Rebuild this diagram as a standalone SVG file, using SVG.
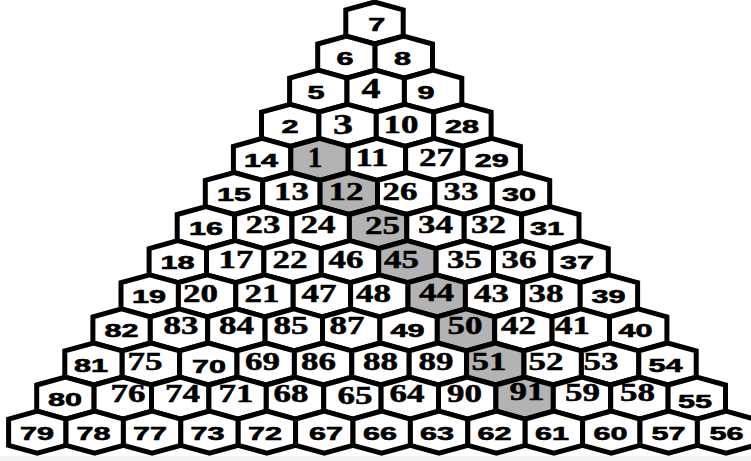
<svg xmlns="http://www.w3.org/2000/svg" xmlns:xlink="http://www.w3.org/1999/xlink" width="751" height="461" viewBox="0 0 751 461">
<defs>
<polygon id="hx" points="0,-21 28.7,-13.1 28.7,13.1 0,21 -28.7,13.1 -28.7,-13.1"/>
</defs>
<style>
.c{fill:#fff;stroke:#000;stroke-width:5;stroke-linejoin:miter}
.g{fill:#b3b3b3;stroke:#000;stroke-width:5;stroke-linejoin:miter}
.s{font-family:"Liberation Sans",Arial,sans-serif;font-weight:bold;font-size:18px;fill:#000;stroke:#000;stroke-width:0.6;text-anchor:middle}
.t{font-family:"Liberation Serif","Times New Roman",serif;font-weight:bold;font-size:26px;fill:#000;stroke:#000;stroke-width:0.5;text-anchor:middle}
.t1{font-family:"Liberation Serif","Times New Roman",serif;font-weight:bold;font-size:29px;fill:#000;stroke:#000;stroke-width:0.5;text-anchor:middle}
</style>
<rect width="751" height="461" fill="#fff"/>
<rect x="0" y="456" width="751" height="5" fill="#f3f3f3"/>
<g id="connectors"/>
<!-- row 0 -->
<g id="n7"><use xlink:href="#hx" x="374.5" y="23" class="c"/><text class="s" x="376.7" y="30.5" textLength="17" lengthAdjust="spacingAndGlyphs">7</text></g>
<!-- row 1 -->
<g id="n6"><use xlink:href="#hx" x="346.4" y="57.1" class="c"/><text class="s" x="345" y="64.6" textLength="17" lengthAdjust="spacingAndGlyphs">6</text></g>
<g id="n8"><use xlink:href="#hx" x="403.8" y="57.1" class="c"/><text class="s" x="402.5" y="64.6" textLength="17" lengthAdjust="spacingAndGlyphs">8</text></g>
<!-- row 2 -->
<g id="n5"><use xlink:href="#hx" x="318.3" y="91.2" class="c"/><text class="s" x="316" y="98.7" textLength="17" lengthAdjust="spacingAndGlyphs">5</text></g>
<g id="n4"><use xlink:href="#hx" x="375.7" y="91.2" class="c"/><text class="t1" x="371" y="97.8" textLength="19" lengthAdjust="spacingAndGlyphs">4</text></g>
<g id="n9"><use xlink:href="#hx" x="433.1" y="91.2" class="c"/><text class="s" x="426" y="98.7" textLength="17" lengthAdjust="spacingAndGlyphs">9</text></g>
<!-- row 3 -->
<g id="n2"><use xlink:href="#hx" x="290.2" y="125.3" class="c"/><text class="s" x="290" y="132.8" textLength="17" lengthAdjust="spacingAndGlyphs">2</text></g>
<g id="n3"><use xlink:href="#hx" x="347.6" y="125.3" class="c"/><text class="t1" x="343" y="133.8" textLength="20" lengthAdjust="spacingAndGlyphs">3</text></g>
<g id="n10"><use xlink:href="#hx" x="405" y="125.3" class="c"/><text class="t" x="401" y="132.8" textLength="35" lengthAdjust="spacingAndGlyphs">10</text></g>
<g id="n28"><use xlink:href="#hx" x="462.4" y="125.3" class="c"/><text class="s" x="462" y="132.8" textLength="34" lengthAdjust="spacingAndGlyphs">28</text></g>
<!-- row 4 -->
<g id="n14"><use xlink:href="#hx" x="262.1" y="159.4" class="c"/><text class="s" x="261" y="166.9" textLength="34" lengthAdjust="spacingAndGlyphs">14</text></g>
<g id="n1"><use xlink:href="#hx" x="319.5" y="159.4" class="g"/><text class="t1" x="315" y="167.3">1</text></g>
<g id="n11"><use xlink:href="#hx" x="376.9" y="159.4" class="c"/><text class="t" x="372" y="166.3" textLength="33" lengthAdjust="spacingAndGlyphs">11</text></g>
<g id="n27"><use xlink:href="#hx" x="434.3" y="159.4" class="c"/><text class="t" x="436.5" y="166.3" textLength="35" lengthAdjust="spacingAndGlyphs">27</text></g>
<g id="n29"><use xlink:href="#hx" x="491.7" y="159.4" class="c"/><text class="s" x="491.7" y="166.9" textLength="34" lengthAdjust="spacingAndGlyphs">29</text></g>
<!-- row 5 -->
<g id="n15"><use xlink:href="#hx" x="234" y="193.5" class="c"/><text class="s" x="234" y="201" textLength="34" lengthAdjust="spacingAndGlyphs">15</text></g>
<g id="n13"><use xlink:href="#hx" x="291.4" y="193.5" class="c"/><text class="t" x="291.5" y="199.8" textLength="35" lengthAdjust="spacingAndGlyphs">13</text></g>
<g id="n12"><use xlink:href="#hx" x="348.8" y="193.5" class="g"/><text class="t" x="346" y="199.8" textLength="35" lengthAdjust="spacingAndGlyphs">12</text></g>
<g id="n26"><use xlink:href="#hx" x="406.2" y="193.5" class="c"/><text class="t" x="400" y="199.8" textLength="35" lengthAdjust="spacingAndGlyphs">26</text></g>
<g id="n33"><use xlink:href="#hx" x="463.6" y="193.5" class="c"/><text class="t" x="461" y="199.8" textLength="35" lengthAdjust="spacingAndGlyphs">33</text></g>
<g id="n30"><use xlink:href="#hx" x="521" y="193.5" class="c"/><text class="s" x="519" y="201" textLength="34" lengthAdjust="spacingAndGlyphs">30</text></g>
<!-- row 6 -->
<g id="n16"><use xlink:href="#hx" x="205.9" y="227.6" class="c"/><text class="s" x="205.9" y="235.1" textLength="34" lengthAdjust="spacingAndGlyphs">16</text></g>
<g id="n23"><use xlink:href="#hx" x="263.3" y="227.6" class="c"/><text class="t" x="263" y="233.4" textLength="35" lengthAdjust="spacingAndGlyphs">23</text></g>
<g id="n24"><use xlink:href="#hx" x="320.7" y="227.6" class="c"/><text class="t" x="318" y="233.4" textLength="35" lengthAdjust="spacingAndGlyphs">24</text></g>
<g id="n25"><use xlink:href="#hx" x="378.1" y="227.6" class="g"/><text class="t" x="382.5" y="233.8" textLength="35" lengthAdjust="spacingAndGlyphs">25</text></g>
<g id="n34"><use xlink:href="#hx" x="435.5" y="227.6" class="c"/><text class="t" x="435.5" y="233.4" textLength="35" lengthAdjust="spacingAndGlyphs">34</text></g>
<g id="n32"><use xlink:href="#hx" x="492.9" y="227.6" class="c"/><text class="t" x="488.5" y="233.4" textLength="35" lengthAdjust="spacingAndGlyphs">32</text></g>
<g id="n31"><use xlink:href="#hx" x="550.3" y="227.6" class="c"/><text class="s" x="547" y="235.1" textLength="34" lengthAdjust="spacingAndGlyphs">31</text></g>
<!-- row 7 -->
<g id="n18"><use xlink:href="#hx" x="177.8" y="261.7" class="c"/><text class="s" x="177.5" y="269.2" textLength="34" lengthAdjust="spacingAndGlyphs">18</text></g>
<g id="n17"><use xlink:href="#hx" x="235.2" y="261.7" class="c"/><text class="t" x="236" y="267.5" textLength="35" lengthAdjust="spacingAndGlyphs">17</text></g>
<g id="n22"><use xlink:href="#hx" x="292.6" y="261.7" class="c"/><text class="t" x="290" y="267.5" textLength="35" lengthAdjust="spacingAndGlyphs">22</text></g>
<g id="n46"><use xlink:href="#hx" x="350" y="261.7" class="c"/><text class="t" x="346" y="267.5" textLength="35" lengthAdjust="spacingAndGlyphs">46</text></g>
<g id="n45"><use xlink:href="#hx" x="407.4" y="261.7" class="g"/><text class="t" x="401.5" y="267.5" textLength="35" lengthAdjust="spacingAndGlyphs">45</text></g>
<g id="n35"><use xlink:href="#hx" x="464.8" y="261.7" class="c"/><text class="t" x="464.5" y="267.5" textLength="35" lengthAdjust="spacingAndGlyphs">35</text></g>
<g id="n36"><use xlink:href="#hx" x="522.2" y="261.7" class="c"/><text class="t" x="519" y="267.5" textLength="35" lengthAdjust="spacingAndGlyphs">36</text></g>
<g id="n37"><use xlink:href="#hx" x="579.6" y="261.7" class="c"/><text class="s" x="577" y="269.2" textLength="34" lengthAdjust="spacingAndGlyphs">37</text></g>
<!-- row 8 -->
<g id="n19"><use xlink:href="#hx" x="149.7" y="295.8" class="c"/><text class="s" x="149" y="303.3" textLength="34" lengthAdjust="spacingAndGlyphs">19</text></g>
<g id="n20"><use xlink:href="#hx" x="207.1" y="295.8" class="c"/><text class="t" x="200.5" y="301.6" textLength="35" lengthAdjust="spacingAndGlyphs">20</text></g>
<g id="n21"><use xlink:href="#hx" x="264.5" y="295.8" class="c"/><text class="t" x="262" y="301.6" textLength="35" lengthAdjust="spacingAndGlyphs">21</text></g>
<g id="n47"><use xlink:href="#hx" x="321.9" y="295.8" class="c"/><text class="t" x="319" y="301.6" textLength="35" lengthAdjust="spacingAndGlyphs">47</text></g>
<g id="n48"><use xlink:href="#hx" x="379.3" y="295.8" class="c"/><text class="t" x="373.5" y="301.6" textLength="35" lengthAdjust="spacingAndGlyphs">48</text></g>
<g id="n44"><use xlink:href="#hx" x="436.7" y="295.8" class="g"/><text class="t" x="436.5" y="300.8" textLength="35" lengthAdjust="spacingAndGlyphs">44</text></g>
<g id="n43"><use xlink:href="#hx" x="494.1" y="295.8" class="c"/><text class="t" x="491.5" y="301.6" textLength="35" lengthAdjust="spacingAndGlyphs">43</text></g>
<g id="n38"><use xlink:href="#hx" x="551.5" y="295.8" class="c"/><text class="t" x="546" y="301.6" textLength="35" lengthAdjust="spacingAndGlyphs">38</text></g>
<g id="n39"><use xlink:href="#hx" x="608.9" y="295.8" class="c"/><text class="s" x="608.5" y="303.3" textLength="34" lengthAdjust="spacingAndGlyphs">39</text></g>
<!-- row 9 -->
<g id="n82"><use xlink:href="#hx" x="121.6" y="329.9" class="c"/><text class="s" x="121.5" y="337.4" textLength="34" lengthAdjust="spacingAndGlyphs">82</text></g>
<g id="n83"><use xlink:href="#hx" x="179" y="329.9" class="c"/><text class="t" x="181" y="334.2" textLength="35" lengthAdjust="spacingAndGlyphs">83</text></g>
<g id="n84"><use xlink:href="#hx" x="236.4" y="329.9" class="c"/><text class="t" x="236.5" y="334.2" textLength="35" lengthAdjust="spacingAndGlyphs">84</text></g>
<g id="n85"><use xlink:href="#hx" x="293.8" y="329.9" class="c"/><text class="t" x="291" y="334.2" textLength="35" lengthAdjust="spacingAndGlyphs">85</text></g>
<g id="n87"><use xlink:href="#hx" x="351.2" y="329.9" class="c"/><text class="t" x="347" y="334.2" textLength="35" lengthAdjust="spacingAndGlyphs">87</text></g>
<g id="n49"><use xlink:href="#hx" x="408.6" y="329.9" class="c"/><text class="s" x="407.5" y="337.4" textLength="34" lengthAdjust="spacingAndGlyphs">49</text></g>
<g id="n50"><use xlink:href="#hx" x="466" y="329.9" class="g"/><text class="t" x="465" y="334.2" textLength="35" lengthAdjust="spacingAndGlyphs">50</text></g>
<g id="n42"><use xlink:href="#hx" x="523.4" y="329.9" class="c"/><text class="t" x="518.5" y="334.2" textLength="35" lengthAdjust="spacingAndGlyphs">42</text></g>
<g id="n41"><use xlink:href="#hx" x="580.8" y="329.9" class="c"/><text class="t" x="572.5" y="334.2" textLength="35" lengthAdjust="spacingAndGlyphs">41</text></g>
<g id="n40"><use xlink:href="#hx" x="638.2" y="329.9" class="c"/><text class="s" x="635.5" y="337.4" textLength="34" lengthAdjust="spacingAndGlyphs">40</text></g>
<!-- row 10 -->
<g id="n81"><use xlink:href="#hx" x="93.5" y="364" class="c"/><text class="s" x="91" y="371.5" textLength="34" lengthAdjust="spacingAndGlyphs">81</text></g>
<g id="n75"><use xlink:href="#hx" x="150.9" y="364" class="c"/><text class="t" x="145" y="369.8" textLength="35" lengthAdjust="spacingAndGlyphs">75</text></g>
<g id="n70"><use xlink:href="#hx" x="208.3" y="364" class="c"/><text class="s" x="209" y="372.5" textLength="34" lengthAdjust="spacingAndGlyphs">70</text></g>
<g id="n69"><use xlink:href="#hx" x="265.7" y="364" class="c"/><text class="t" x="262.5" y="369.8" textLength="35" lengthAdjust="spacingAndGlyphs">69</text></g>
<g id="n86"><use xlink:href="#hx" x="323.1" y="364" class="c"/><text class="t" x="318.5" y="369.8" textLength="35" lengthAdjust="spacingAndGlyphs">86</text></g>
<g id="n88"><use xlink:href="#hx" x="380.5" y="364" class="c"/><text class="t" x="380.5" y="369.8" textLength="35" lengthAdjust="spacingAndGlyphs">88</text></g>
<g id="n89"><use xlink:href="#hx" x="437.9" y="364" class="c"/><text class="t" x="436" y="369.8" textLength="35" lengthAdjust="spacingAndGlyphs">89</text></g>
<g id="n51"><use xlink:href="#hx" x="495.3" y="364" class="g"/><text class="t" x="489" y="369.8" textLength="35" lengthAdjust="spacingAndGlyphs">51</text></g>
<g id="n52"><use xlink:href="#hx" x="552.7" y="364" class="c"/><text class="t" x="546" y="369.8" textLength="35" lengthAdjust="spacingAndGlyphs">52</text></g>
<g id="n53"><use xlink:href="#hx" x="610.1" y="364" class="c"/><text class="t" x="601" y="369.8" textLength="35" lengthAdjust="spacingAndGlyphs">53</text></g>
<g id="n54"><use xlink:href="#hx" x="667.5" y="364" class="c"/><text class="s" x="665.5" y="371.5" textLength="34" lengthAdjust="spacingAndGlyphs">54</text></g>
<!-- row 11 -->
<g id="n80"><use xlink:href="#hx" x="65.4" y="398.1" class="c"/><text class="s" x="65" y="405.6" textLength="34" lengthAdjust="spacingAndGlyphs">80</text></g>
<g id="n76"><use xlink:href="#hx" x="122.8" y="398.1" class="c"/><text class="t" x="128" y="402.4" textLength="35" lengthAdjust="spacingAndGlyphs">76</text></g>
<g id="n74"><use xlink:href="#hx" x="180.2" y="398.1" class="c"/><text class="t" x="182.5" y="402.4" textLength="35" lengthAdjust="spacingAndGlyphs">74</text></g>
<g id="n71"><use xlink:href="#hx" x="237.6" y="398.1" class="c"/><text class="t" x="236" y="402.4" textLength="35" lengthAdjust="spacingAndGlyphs">71</text></g>
<g id="n68"><use xlink:href="#hx" x="295" y="398.1" class="c"/><text class="t" x="291" y="402.4" textLength="35" lengthAdjust="spacingAndGlyphs">68</text></g>
<g id="n65"><use xlink:href="#hx" x="352.4" y="398.1" class="c"/><text class="t" x="355" y="403.5" textLength="35" lengthAdjust="spacingAndGlyphs">65</text></g>
<g id="n64"><use xlink:href="#hx" x="409.8" y="398.1" class="c"/><text class="t" x="407" y="402.4" textLength="35" lengthAdjust="spacingAndGlyphs">64</text></g>
<g id="n90"><use xlink:href="#hx" x="467.2" y="398.1" class="c"/><text class="t" x="464.5" y="402.4" textLength="35" lengthAdjust="spacingAndGlyphs">90</text></g>
<g id="n91"><use xlink:href="#hx" x="524.6" y="398.1" class="g"/><text class="t" x="527" y="400.4" textLength="35" lengthAdjust="spacingAndGlyphs">91</text></g>
<g id="n59"><use xlink:href="#hx" x="582" y="398.1" class="c"/><text class="t" x="582.5" y="401.4" textLength="35" lengthAdjust="spacingAndGlyphs">59</text></g>
<g id="n58"><use xlink:href="#hx" x="639.4" y="398.1" class="c"/><text class="t" x="637.5" y="401.4" textLength="35" lengthAdjust="spacingAndGlyphs">58</text></g>
<g id="n55"><use xlink:href="#hx" x="696.8" y="398.1" class="c"/><text class="s" x="695" y="407.5" textLength="34" lengthAdjust="spacingAndGlyphs">55</text></g>
<!-- row 12 -->
<g id="n79"><use xlink:href="#hx" x="37.3" y="432.2" class="c"/><text class="s" x="37" y="439.7" textLength="34" lengthAdjust="spacingAndGlyphs">79</text></g>
<g id="n78"><use xlink:href="#hx" x="94.7" y="432.2" class="c"/><text class="s" x="93.5" y="439.7" textLength="34" lengthAdjust="spacingAndGlyphs">78</text></g>
<g id="n77"><use xlink:href="#hx" x="152.1" y="432.2" class="c"/><text class="s" x="150" y="439.7" textLength="34" lengthAdjust="spacingAndGlyphs">77</text></g>
<g id="n73"><use xlink:href="#hx" x="209.5" y="432.2" class="c"/><text class="s" x="207.5" y="439.7" textLength="34" lengthAdjust="spacingAndGlyphs">73</text></g>
<g id="n72"><use xlink:href="#hx" x="266.9" y="432.2" class="c"/><text class="s" x="265" y="439.7" textLength="34" lengthAdjust="spacingAndGlyphs">72</text></g>
<g id="n67"><use xlink:href="#hx" x="324.3" y="432.2" class="c"/><text class="s" x="326" y="439.7" textLength="34" lengthAdjust="spacingAndGlyphs">67</text></g>
<g id="n66"><use xlink:href="#hx" x="381.7" y="432.2" class="c"/><text class="s" x="380" y="439.7" textLength="34" lengthAdjust="spacingAndGlyphs">66</text></g>
<g id="n63"><use xlink:href="#hx" x="439.1" y="432.2" class="c"/><text class="s" x="437" y="439.7" textLength="34" lengthAdjust="spacingAndGlyphs">63</text></g>
<g id="n62"><use xlink:href="#hx" x="496.5" y="432.2" class="c"/><text class="s" x="494.5" y="439.7" textLength="34" lengthAdjust="spacingAndGlyphs">62</text></g>
<g id="n61"><use xlink:href="#hx" x="553.9" y="432.2" class="c"/><text class="s" x="552" y="439.7" textLength="34" lengthAdjust="spacingAndGlyphs">61</text></g>
<g id="n60"><use xlink:href="#hx" x="611.3" y="432.2" class="c"/><text class="s" x="610.5" y="439.7" textLength="34" lengthAdjust="spacingAndGlyphs">60</text></g>
<g id="n57"><use xlink:href="#hx" x="668.7" y="432.2" class="c"/><text class="s" x="668.5" y="439.7" textLength="34" lengthAdjust="spacingAndGlyphs">57</text></g>
<g id="n56"><use xlink:href="#hx" x="726.1" y="432.2" class="c"/><text class="s" x="726.5" y="439.7" textLength="34" lengthAdjust="spacingAndGlyphs">56</text></g>
</svg>
